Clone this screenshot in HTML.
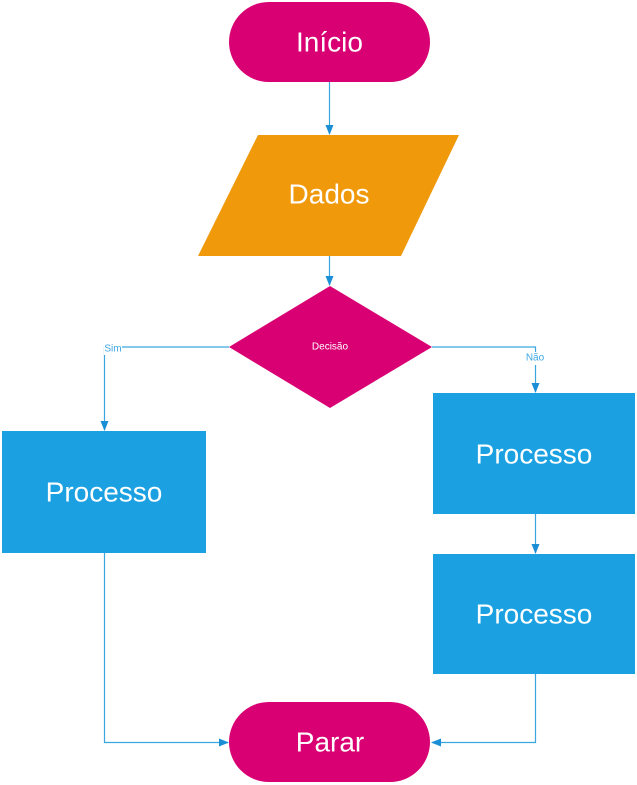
<!DOCTYPE html>
<html><head><meta charset="utf-8"><style>
html,body{margin:0;padding:0;background:#fff;}
svg{display:block;}
text{font-family:"Liberation Sans",sans-serif;fill:#fff;text-anchor:middle;dominant-baseline:central;}
</style></head><body>
<svg width="637" height="785" viewBox="0 0 637 785" xmlns="http://www.w3.org/2000/svg">
<defs><marker id="a" markerWidth="10" markerHeight="8" refX="9" refY="4" orient="auto" markerUnits="userSpaceOnUse"><path d="M0,0 L10,4 L0,8 Z" fill="#1b8fd6"/></marker></defs>
<g stroke="#3aa6e0" stroke-width="1.2" fill="none">
<line x1="329.5" y1="82" x2="329.5" y2="134" marker-end="url(#a)"/>
<line x1="329.5" y1="256" x2="329.5" y2="285" marker-end="url(#a)"/>
<polyline points="229,347 104.5,347 104.5,430" marker-end="url(#a)"/>
<polyline points="432,347 535.5,347 535.5,392" marker-end="url(#a)"/>
<line x1="535.5" y1="514" x2="535.5" y2="553" marker-end="url(#a)"/>
<polyline points="104.5,553 104.5,742.5 228,742.5" marker-end="url(#a)"/>
<polyline points="535.5,674 535.5,742.5 432,742.5" marker-end="url(#a)"/>
</g>
<rect x="229" y="2" width="201" height="80" rx="40" fill="#d80073"/>
<text x="329.5" y="42" font-size="28">Início</text>
<polygon points="258,135 459,135 401,256 198,256" fill="#f0990b"/>
<text x="329" y="194" font-size="28">Dados</text>
<polygon points="330,286 432,347 330,408 229,347" fill="#d80073"/>
<text x="330" y="347" font-size="10">Decisão</text>
<rect x="2" y="431" width="204" height="122" fill="#1ba1e2"/>
<text x="104" y="492" font-size="28">Processo</text>
<rect x="433" y="393" width="202" height="121" fill="#1ba1e2"/>
<text x="534" y="454" font-size="28">Processo</text>
<rect x="433" y="554" width="202" height="120" fill="#1ba1e2"/>
<text x="534" y="614" font-size="28">Processo</text>
<rect x="229" y="702" width="201" height="80" rx="40" fill="#d80073"/>
<text x="330" y="742" font-size="28">Parar</text>
<rect x="104" y="343" width="18" height="12" fill="#fff"/>
<text x="113" y="349" font-size="10" style="fill:#3aa6e0">Sim</text>
<rect x="525" y="352" width="21" height="13" fill="#fff"/>
<text x="535" y="358" font-size="10" style="fill:#3aa6e0">Não</text>
</svg>
</body></html>
